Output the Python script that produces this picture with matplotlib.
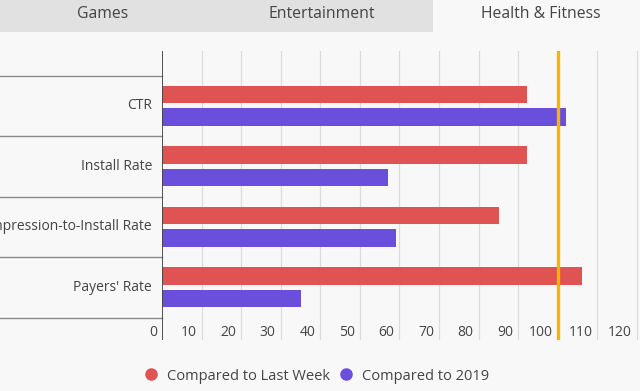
import matplotlib
matplotlib.use("Agg")
import matplotlib.pyplot as plt
import matplotlib.transforms as mtransforms
from matplotlib.lines import Line2D
from matplotlib.patches import Rectangle
import numpy as np

plt.rcParams['font.family'] = ['Open Sans', 'DejaVu Sans']

# data
categories = ["CTR", "Install Rate", "Impression-to-Install Rate", "Payers' Rate"]
last_week = [92.2, 92.2, 85.1, 106.2]
vs_2019 = [102.1, 57.2, 59.2, 35.1]
x_ticks = [0, 10, 20, 30, 40, 50, 60, 70, 80, 90, 100, 110, 120]
benchmark = 100
tabs = ["Games", "Entertainment", "Health & Fitness"]
series_names = ["Compared to Last Week", "Compared to 2019"]

red = '#e05353'
purple = '#6a4fdc'
orange = '#f8b500'
bg = '#f8f8f8'
txt = '#444444'

W, H = 640, 391
fig = plt.figure(figsize=(W / 100, H / 100), dpi=100, facecolor=bg)

# tab strip on top
fig.patches.append(Rectangle((0, 1 - 32 / H), 433 / W, 32 / H, transform=fig.transFigure,
                             facecolor='#e1e1e1', edgecolor='none', zorder=0))
for name, xc in zip(tabs, [103, 322, 541]):
    fig.text(xc / W, 1 - 14 / H, name, ha='center', va='center', fontsize=11.3, color=txt)

ax_top, ax_bot = 51, 340
ax = fig.add_axes([162 / W, 1 - ax_bot / H, (W - 162) / W, (ax_bot - ax_top) / H])
ax.set_facecolor(bg)

px_per_unit = 39.58 / 10
ax.set_xlim(0, (W - 162) / px_per_unit)
band = 60.5
ax.set_ylim(3 + (ax_bot - 287.5) / band, -(106 - ax_top) / band)

y = np.arange(len(categories))
ax.barh(y - 0.19, last_week, height=0.29, color=red, zorder=3)
ax.barh(y + 0.185, vs_2019, height=0.29, color=purple, zorder=3)

for v in x_ticks[1:]:
    ax.axvline(v, color='#dcdcdc', lw=0.9, zorder=1)
ax.axvline(benchmark, color=orange, lw=2.4, zorder=4)

for s in ax.spines.values():
    s.set_visible(False)
ax.axvline(0, color='#444444', lw=1.3, zorder=5)
ax.set_xticks([])
ax.set_yticks([])

# category separators extending into label area
blend = mtransforms.blended_transform_factory(ax.transAxes, ax.transData)
for b in np.arange(-0.5, len(categories) + 0.5, 1):
    ax.plot([-162 / (W - 162), 0], [b, b], transform=blend, color='#8a8a8a',
            lw=1.0, clip_on=False, zorder=2)

for yi, name in zip(y, categories):
    ax.annotate(name, (0, yi), xytext=(-10, 0), textcoords='offset pixels',
                ha='right', va='center', fontsize=10, color=txt, annotation_clip=False)

tick_blend = mtransforms.blended_transform_factory(ax.transData, ax.transAxes)
for v in x_ticks:
    ax.annotate(str(v), (v, (ax_bot - 332) / (ax_bot - ax_top)), xycoords=tick_blend,
                xytext=(-5, 0), textcoords='offset pixels',
                ha='right', va='center', fontsize=10, color=txt, annotation_clip=False)

handles = [Line2D([], [], marker='o', ls='none', markersize=8, color=c) for c in (red, purple)]
fig.legend(handles, series_names, loc='center', bbox_to_anchor=(316 / W, 1 - 376 / H),
           ncol=2, frameon=False, fontsize=10.5, handletextpad=0.6, columnspacing=0.6,
           labelcolor=txt, handlelength=1.0)

fig.savefig('out.png', dpi=100, facecolor=bg)
